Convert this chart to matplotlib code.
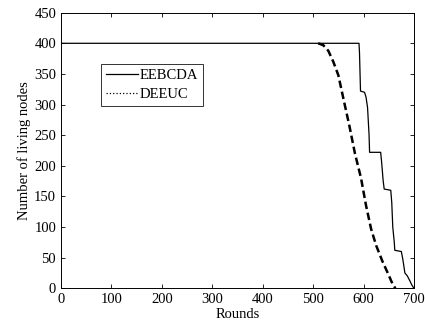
import matplotlib
matplotlib.use("Agg")
import matplotlib.pyplot as plt
from matplotlib.lines import Line2D

plt.rcParams['font.family'] = ['Liberation Serif', 'DejaVu Serif']

# EEBCDA (step-like)
eebcda_x = [0, 591, 592, 594, 602, 605, 608, 611, 612, 634, 636, 639, 641, 654, 656, 658, 661, 662, 675, 678, 682, 687, 692, 696, 700]
eebcda_y = [400, 400, 385, 322, 320, 312, 295, 250, 222, 222, 205, 175, 162, 160, 140, 100, 75, 62, 60, 47, 25, 20, 12, 5, 0]

# DEEUC (smooth)
deeuc_x = [510, 520, 530, 540, 550, 560, 572, 583, 595, 605, 615, 625, 637, 648, 656, 663]
deeuc_y = [400, 397, 388, 370, 348, 310, 265, 220, 180, 135, 97, 70, 45, 25, 10, 0]

x_ticks = [0, 100, 200, 300, 400, 500, 600, 700]
y_ticks = [0, 50, 100, 150, 200, 250, 300, 350, 400, 450]

fig = plt.figure(figsize=(4.25, 3.25), dpi=100)
ax = fig.add_axes([0.1435, 0.113, 0.8305, 0.848])
ax.plot(eebcda_x, eebcda_y, color='black', lw=0.9)
ax.plot(deeuc_x, deeuc_y, color='black', lw=1.8, linestyle=(0, (3, 1.5)))
ax.set_xlim(0, 700)
ax.set_ylim(0, 450)
ax.set_xticks(x_ticks)
ax.set_yticks(y_ticks)
ax.tick_params(direction='in', top=True, right=True, labelsize=10.5, length=3, width=0.6)
for s in ax.spines.values():
    s.set_linewidth(0.7)
ax.set_xlabel('Rounds', fontsize=10.5, labelpad=1)
ax.set_ylabel('Number of living nodes', fontsize=10.5, labelpad=2)

handles = [Line2D([], [], color='black', lw=0.9),
           Line2D([], [], color='black', lw=0.9, linestyle=':')]
leg = ax.legend(handles, ['EEBCDA', 'DEEUC'], loc='upper left', bbox_to_anchor=(0.113, 0.814),
                fontsize=10.5, frameon=True, fancybox=False, edgecolor='black',
                handlelength=2.2, handletextpad=0.1, borderpad=0.35, labelspacing=0.4, borderaxespad=0)
leg.get_frame().set_linewidth(0.7)

fig.savefig('out.png', dpi=100)
